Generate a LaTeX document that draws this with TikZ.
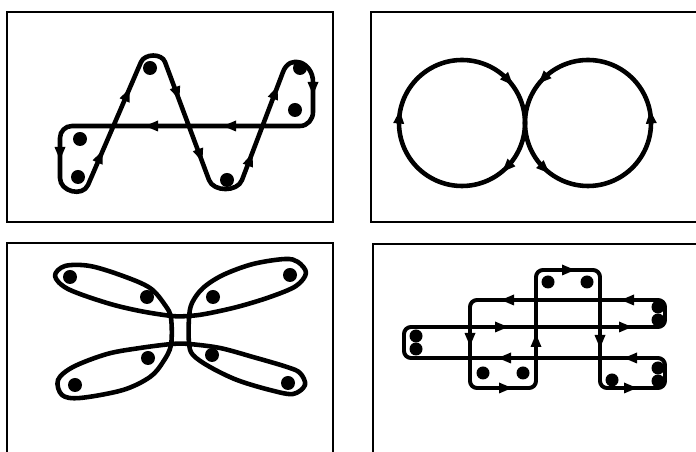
\documentclass[tikz,border=0pt]{standalone}
\usepackage{tikz}

\newcommand{\arrowtipat}[2]{\fill[shift={(#1)},rotate=#2] (7,0) -- (-6,5.5) -- (-6,-5.5) -- cycle;}

\begin{document}
\begin{tikzpicture}[x=0.03cm,y=0.03cm,
  panel/.style={line width=1.5pt},
  loopline/.style={line width=3.9pt,line join=round,line cap=round},
  boxline/.style={line width=3.4pt,line join=round,rounded corners=6},
  dot/.style={fill=black}]
\clip (0,0) rectangle (696,452);
\fill[white] (0,0) rectangle (696,452);

% four panels
\draw[panel] (7,230) rectangle (333,440);
\draw[panel] (371,230) rectangle (720,440);
\draw[panel] (7,-20) rectangle (333,209);
\draw[panel] (373,-20) rectangle (720,208);

% top left: zigzag loop
\draw[loopline] (88,267) -- (141,390) to[out=66,in=110] (165,390) -- (209,272)
  to[out=-70,in=-110] (242,272) -- (283,380) to[out=70,in=90,looseness=1.6] (313,370)
  -- (313,340) to[out=-90,in=0] (300,326) -- (72,326) to[out=180,in=90] (60,314)
  -- (60,274) to[out=-90,in=-114,looseness=1.2] (88,267) -- cycle;
\foreach \p in {(150,384),(300,384),(295,342),(80,313),(78,275),(227,272)}
  \fill[dot] \p circle (7);
\arrowtipat{60,299}{-90}
\arrowtipat{100,295}{66}
\arrowtipat{127,357}{66}
\arrowtipat{177,359}{-70}
\arrowtipat{200,297}{-70}
\arrowtipat{250,292}{69}
\arrowtipat{275,359}{69}
\arrowtipat{313,364}{-90}
\arrowtipat{230,326}{180}
\arrowtipat{152,326}{180}

% top right: two circles
\draw[loopline] (462,329) circle (63);
\draw[loopline] (588,329) circle (63);
\arrowtipat{508.1,372}{-47}
\arrowtipat{399.2,334.5}{85}
\arrowtipat{507.3,285.2}{-134}
\arrowtipat{543.5,373.5}{-135}
\arrowtipat{650.8,334.5}{95}
\arrowtipat{544.2,283.7}{-44}

% bottom left: four leaves
\draw[loopline] plot[smooth cycle,tension=0.55] coordinates {
  (55,176) (68,163) (107,149) (140,141) (172,136) (188,136) (205,138) (237,145)
  (270,155) (296,166) (306,179) (298,190) (285,193) (253,188) (223,177) (203,164)
  (192,149) (189,134) (189,109) (193,97) (210,85) (237,72) (270,62) (293,58)
  (305,67) (300,79) (287,85) (253,95) (220,104) (189,108) (172,108) (140,104)
  (107,98) (73,85) (58,72) (62,57) (80,54) (123,62) (150,75) (163,90)
  (171,107) (171,134) (165,147) (150,164) (123,176) (90,186) (65,186)};
\foreach \p in {(70,175),(147,155),(213,155),(290,177),(148,94),(212,97),(75,67),(288,69)}
  \fill[dot] \p circle (7);

% bottom right: box loop
\draw[boxline] (536,182) -- (600,182) -- (600,64) -- (665,64) -- (665,94) -- (404,94)
  -- (404,125) -- (665,125) -- (665,152) -- (470,152) -- (470,64) -- (536,64) -- cycle;
\foreach \p in {(548,170),(587,170),(483,79),(523,79),(612,72)}
  \fill[dot] \p circle (6.5);
\foreach \p in {(416,116),(416,103),(658,145),(658,132),(658,84),(658,71)}
  \fill[dot] \p circle (6.5);
\arrowtipat{568,182}{0}
\arrowtipat{600,111}{-90}
\arrowtipat{630,64}{0}
\arrowtipat{631,94}{180}
\arrowtipat{505,94}{180}
\arrowtipat{501,125}{0}
\arrowtipat{625,125}{0}
\arrowtipat{628,152}{180}
\arrowtipat{508,152}{180}
\arrowtipat{470,113}{-90}
\arrowtipat{505,64}{0}
\arrowtipat{536,111}{90}
\end{tikzpicture}
\end{document}
